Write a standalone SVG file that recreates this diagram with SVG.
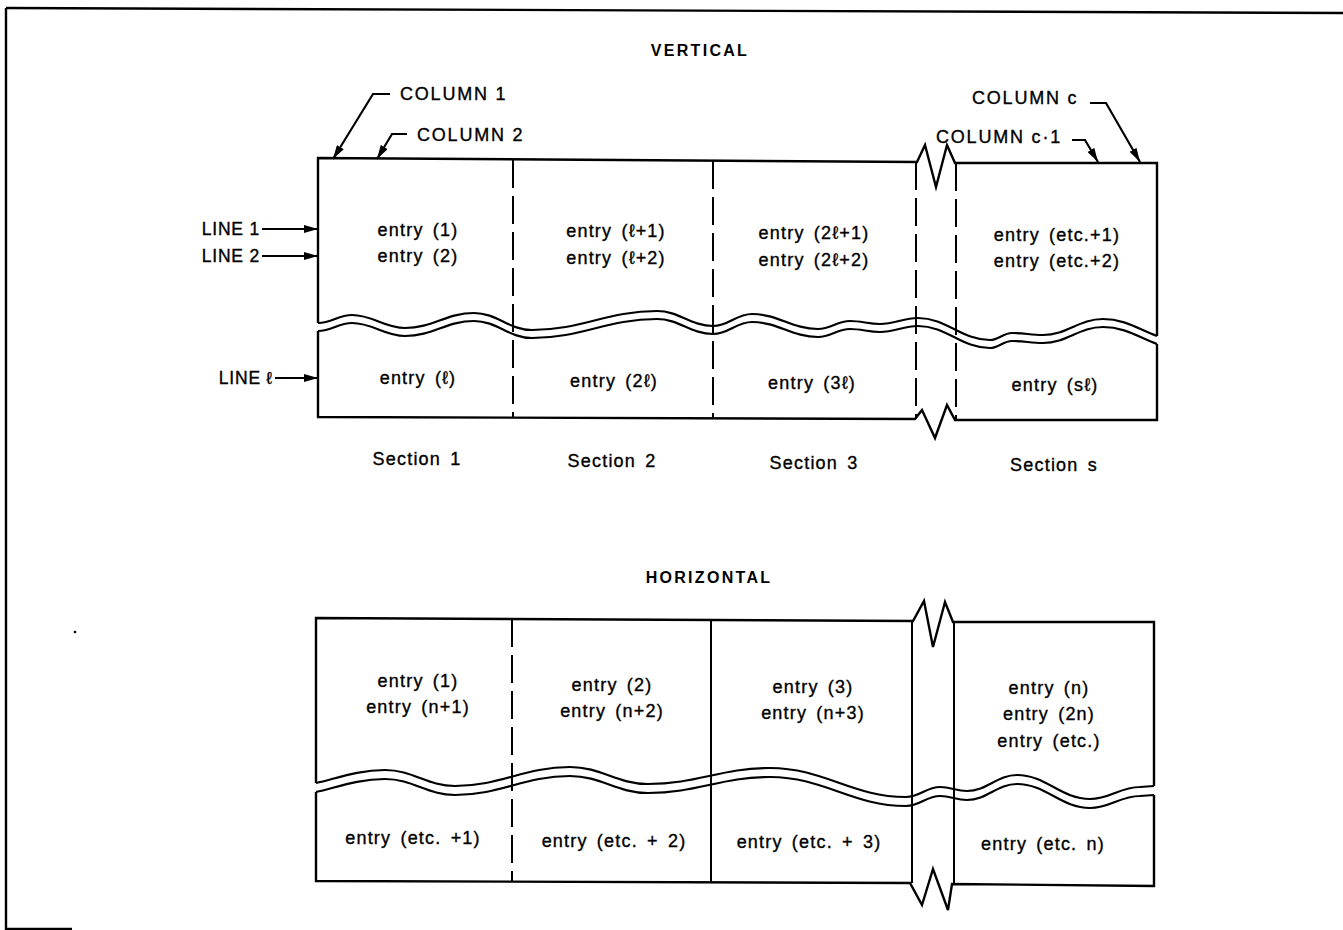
<svg xmlns="http://www.w3.org/2000/svg" xmlns:xlink="http://www.w3.org/1999/xlink" width="1343" height="930" viewBox="0 0 1343 930">
<style>
.ln{fill:none;stroke:#000;stroke-width:2.4;stroke-linejoin:miter}
.ds{fill:none;stroke:#000;stroke-width:2;stroke-dasharray:28 8}
.sd{fill:none;stroke:#000;stroke-width:2}
.wv{fill:none;stroke:#000;stroke-width:2.2}
.t{font-family:"Liberation Sans",Arial,sans-serif;font-size:18px;letter-spacing:1.2px;word-spacing:3px;fill:#000;stroke:#000;stroke-width:0.35}
.c{text-anchor:middle}
.cap{font-family:"Liberation Sans",Arial,sans-serif;font-size:18px;letter-spacing:1.8px;fill:#000;stroke:#000;stroke-width:0.35}
.lab{font-family:"Liberation Sans",Arial,sans-serif;font-size:17.5px;letter-spacing:0.8px;text-anchor:end;fill:#000;stroke:#000;stroke-width:0.35}
.ttl{font-family:"Liberation Sans",Arial,sans-serif;font-size:16px;font-weight:bold;letter-spacing:2.3px;text-anchor:middle;fill:#000}
.con{fill:none;stroke:#000;stroke-width:2.2}
</style>
<defs>
<marker id="ah" viewBox="0 0 14 8" refX="14" refY="4" markerWidth="14" markerHeight="8" markerUnits="userSpaceOnUse" orient="auto">
<path d="M0,0 L14,4 L0,8 Z" fill="#000"/>
</marker>
<path id="vwave" d="M318,323 C332,323 338,315 352,315 C373,315 384,328 405,328 C433,328 446,313 474,313 C497,313 509,330 532,330 C582,330 607,311 657,311 C679,311 691,326 713,326 C729,326 736,314 752,314 C778,314 792,329 818,329 C831,329 837,321 850,321 C862,321 868,324 880,324 C895,324 903,318 918,318 C947,318 961,340 990,340 C999,340 1003,333 1012,333 C1024,333 1031,335 1043,335 C1067,335 1079,319 1103,319 C1125,319 1140,330 1157,336"/>
<path id="hwave" d="M316,783 C335,779 357,770 385,770 C413,770 427,786 455,786 C501,786 524,767 570,767 C601,767 617,784 648,784 C697,784 721,768 770,768 C824,768 852,797 906,797 C920,797 926,787 940,787 C951,787 956,791 967,791 C987,791 997,775 1017,775 C1046,775 1061,799 1090,799 C1110,799 1120,787 1140,787 L1154,786"/>
</defs>
<rect x="0" y="0" width="1343" height="930" fill="#fff"/>

<g id="frame">
<path class="ln" d="M6,8 L1343,13" stroke-width="2.6"/>
<path class="ln" d="M6,8 L6,929 L72,929" stroke-width="2.6"/>
<circle cx="75" cy="632" r="1.3" fill="#000"/>
</g>

<g id="title-vertical"><text class="ttl" x="700" y="56">VERTICAL</text></g>

<g id="vertical-table">
<path class="ln" d="M318,323 L318,158 L917,162 L925,145 L936,187 L947,145 L955,163 L1157,163 L1157,336"/>
<path class="ln" d="M318,331 L318,417 L915,419 L922,410 L935,438 L947,405 L955,420 L1157,420 L1157,344"/>
<path class="ds" d="M513,160 V418"/>
<path class="ds" d="M713,161 V418"/>
<path class="ds" d="M916,162 V419"/>
<path class="ds" d="M956,163 V420"/>
<use xlink:href="#vwave" href="#vwave" class="wv"/>
<use xlink:href="#vwave" href="#vwave" class="wv" transform="translate(0,8)"/>
</g>

<g id="v-section-1">
<text class="t c" x="418" y="236">entry (1)</text>
<text class="t c" x="418" y="262">entry (2)</text>
<text class="t c" x="418" y="384">entry (ℓ)</text>
<text class="t c" x="417" y="465">Section 1</text>
</g>
<g id="v-section-2">
<text class="t c" x="616" y="237">entry (ℓ+1)</text>
<text class="t c" x="616" y="264">entry (ℓ+2)</text>
<text class="t c" x="614" y="387">entry (2ℓ)</text>
<text class="t c" x="612" y="467">Section 2</text>
</g>
<g id="v-section-3">
<text class="t c" x="814" y="239">entry (2ℓ+1)</text>
<text class="t c" x="814" y="266">entry (2ℓ+2)</text>
<text class="t c" x="812" y="389">entry (3ℓ)</text>
<text class="t c" x="814" y="469">Section 3</text>
</g>
<g id="v-section-s">
<text class="t c" x="1057" y="241">entry (etc.+1)</text>
<text class="t c" x="1057" y="267">entry (etc.+2)</text>
<text class="t c" x="1055" y="391">entry (sℓ)</text>
<text class="t c" x="1054" y="471">Section s</text>
</g>

<g id="column-labels">
<text class="cap" x="400" y="100">COLUMN 1</text>
<text class="cap" x="417" y="141">COLUMN 2</text>
<text class="cap" x="972" y="104">COLUMN c</text>
<text class="cap" x="936" y="143">COLUMN c·1</text>
</g>
<g id="line-labels">
<text class="lab" x="260" y="235">LINE 1</text>
<text class="lab" x="260" y="262">LINE 2</text>
<text class="lab" x="273" y="384">LINE ℓ</text>
</g>

<g id="connectors">
<path class="con" marker-end="url(#ah)" d="M390,94 H373 L333,159"/>
<path class="con" marker-end="url(#ah)" d="M407,134 H392 L377,159"/>
<path class="con" marker-end="url(#ah)" d="M1090,103 H1106 L1140,162"/>
<path class="con" marker-end="url(#ah)" d="M1072,140 H1085 L1098,162"/>
<path class="con" marker-end="url(#ah)" d="M262,229 H318"/>
<path class="con" marker-end="url(#ah)" d="M262,256 H318"/>
<path class="con" marker-end="url(#ah)" d="M275,378 H318"/>
</g>

<g id="title-horizontal"><text class="ttl" x="709" y="583">HORIZONTAL</text></g>

<g id="horizontal-table">
<path class="ln" d="M316,783 L316,618 L913,621 L924,601 L933,647 L945,602 L953,622 L1154,622 L1154,786"/>
<path class="ln" d="M316,792 L316,881 L910,883 L922,905 L933,869 L948,910 L952,884 L1154,886 L1154,795"/>
<path class="ds" d="M512,619 V882"/>
<path class="sd" d="M711,620 V882"/>
<path class="sd" d="M912,621 V883"/>
<path class="sd" d="M954,622 V884"/>
<use xlink:href="#hwave" href="#hwave" class="wv"/>
<use xlink:href="#hwave" href="#hwave" class="wv" transform="translate(0,9)"/>
</g>

<g id="h-column-1">
<text class="t c" x="418" y="687">entry (1)</text>
<text class="t c" x="418" y="713">entry (n+1)</text>
<text class="t c" x="413" y="844">entry (etc. +1)</text>
</g>
<g id="h-column-2">
<text class="t c" x="612" y="691">entry (2)</text>
<text class="t c" x="612" y="717">entry (n+2)</text>
<text class="t c" x="614" y="847">entry (etc. + 2)</text>
</g>
<g id="h-column-3">
<text class="t c" x="813" y="693">entry (3)</text>
<text class="t c" x="813" y="719">entry (n+3)</text>
<text class="t c" x="809" y="848">entry (etc. + 3)</text>
</g>
<g id="h-column-n">
<text class="t c" x="1049" y="694">entry (n)</text>
<text class="t c" x="1049" y="720">entry (2n)</text>
<text class="t c" x="1049" y="747">entry (etc.)</text>
<text class="t c" x="1043" y="850">entry (etc. n)</text>
</g>
</svg>
